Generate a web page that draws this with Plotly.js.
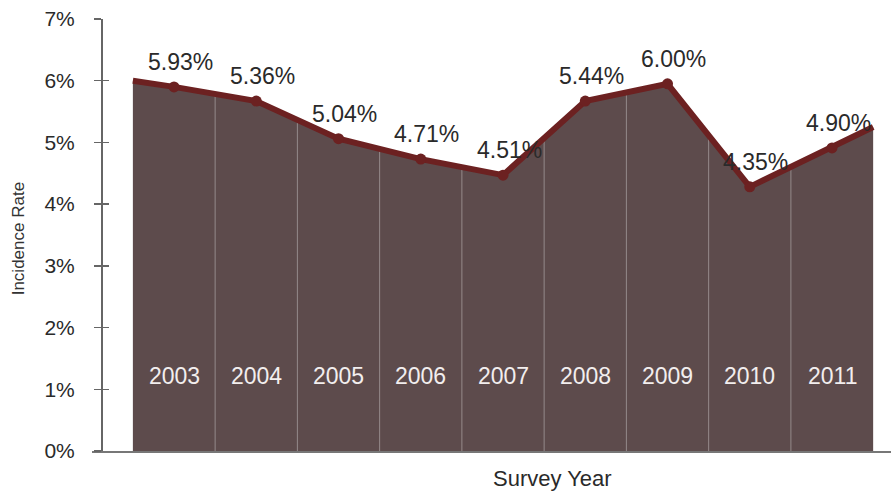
<!DOCTYPE html>
<html>
<head>
<meta charset="utf-8">
<script src="https://cdn.plot.ly/plotly-3.0.1.min.js"></script>
<style>html,body{margin:0;padding:0;background:#fff;}#chart{width:891px;height:491px;}</style>
</head>
<body>
<div id="chart"></div>
<script>
// Data
const years = [2003, 2004, 2005, 2006, 2007, 2008, 2009, 2010, 2011];
const rates = [5.90, 5.67, 5.06, 4.73, 4.47, 5.67, 5.95, 4.28, 4.91];   // plotted heights (%)
const rateLabels = ['5.93%', '5.36%', '5.04%', '4.71%', '4.51%', '5.44%', '6.00%', '4.35%', '4.90%'];
const startRate = 6.00;   // left edge of the area
const endRate = 5.25;     // right edge of the area
const yTickVals = [0, 1, 2, 3, 4, 5, 6, 7];
const yTickText = ['0%', '1%', '2%', '3%', '4%', '5%', '6%', '7%'];

const FONT = 'Liberation Sans, Arial, Helvetica, sans-serif';
const FILL = '#5d4b4c';
const LINE = '#6c2121';

const areaX = [years[0] - 0.5].concat(years, [years[years.length - 1] + 0.5]);
const areaY = [startRate].concat(rates, [endRate]);

// separators between year bands, from the base up to the line
const sepX = [], sepY = [];
for (let i = 0; i < years.length - 1; i++) {
  const xm = (years[i] + years[i + 1]) / 2;
  const ym = (rates[i] + rates[i + 1]) / 2;
  sepX.push(xm, xm, null);
  sepY.push(0, ym, null);
}

const traces = [
  { x: areaX, y: areaY, type: 'scatter', mode: 'lines', fill: 'tozeroy',
    fillcolor: FILL, line: { width: 0, color: FILL }, hoverinfo: 'skip', showlegend: false },
  { x: sepX, y: sepY, type: 'scatter', mode: 'lines',
    line: { width: 1, color: '#958a8b' }, hoverinfo: 'skip', showlegend: false },
  { x: areaX, y: areaY, type: 'scatter', mode: 'lines',
    line: { width: 6, color: LINE }, hoverinfo: 'skip', showlegend: false },
  { x: years, y: rates, type: 'scatter', mode: 'markers',
    marker: { size: 11, color: LINE }, showlegend: false }
];

const annotations = [];
years.forEach((yr, i) => {
  annotations.push({ x: yr, y: rates[i], xref: 'x', yref: 'y', text: rateLabels[i],
    showarrow: false, xshift: 6, yshift: 25, font: { family: FONT, size: 23, color: '#2a2a2a' } });
  annotations.push({ x: yr, y: 1.22, xref: 'x', yref: 'y', text: String(yr),
    showarrow: false, font: { family: FONT, size: 23, color: '#f2eeee' } });
});
annotations.push({ x: (18 - 92) / 799, y: 0.49, xref: 'paper', yref: 'paper', text: 'Incidence Rate',
  textangle: -90, showarrow: false, xanchor: 'center', yanchor: 'middle',
  font: { family: FONT, size: 17, color: '#333' } });
annotations.push({ x: (552 - 92) / 799, y: -0.063, xref: 'paper', yref: 'paper', text: 'Survey Year',
  showarrow: false, xanchor: 'center', yanchor: 'middle',
  font: { family: FONT, size: 22, color: '#2a2a2a' } });

const yPos = (101 - 92) / 799;
const layout = {
  width: 891, height: 491,
  margin: { l: 92, r: 0, t: 19, b: 40, pad: 0 },
  paper_bgcolor: '#ffffff', plot_bgcolor: '#ffffff',
  showlegend: false,
  xaxis: { range: [2002.003, 2011.717], showgrid: false, zeroline: false,
    showline: true, linecolor: '#777', linewidth: 1.5, showticklabels: false, ticks: '' },
  yaxis: { range: [0, 7], tickvals: yTickVals, ticktext: yTickText, showgrid: false, zeroline: false,
    anchor: 'free', position: yPos, showline: true, linecolor: '#666', linewidth: 1.5,
    ticks: 'outside', ticklen: 7, tickcolor: '#666', tickwidth: 1.5, ticklabelstandoff: 15,
    tickfont: { family: FONT, size: 21, color: '#2a2a2a' } },
  yaxis2: { range: [0, 7], tickvals: yTickVals, overlaying: 'y', anchor: 'free', position: yPos,
    showgrid: false, zeroline: false, showline: false, showticklabels: false,
    ticks: 'inside', ticklen: 7, tickcolor: '#666', tickwidth: 1.5 },
  annotations: annotations
};

traces.push({ x: [years[0]], y: [0], yaxis: 'y2', type: 'scatter', mode: 'markers',
  marker: { opacity: 0 }, hoverinfo: 'skip', showlegend: false });

Plotly.newPlot('chart', traces, layout, { staticPlot: true, displayModeBar: false });
</script>
</body>
</html>
